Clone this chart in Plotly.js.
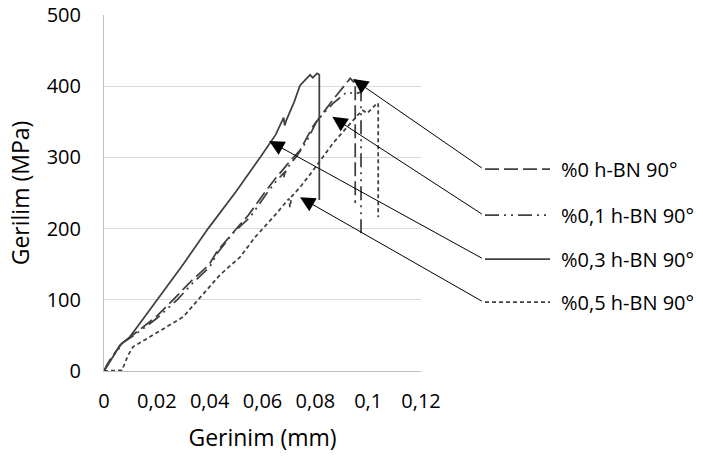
<!DOCTYPE html>
<html>
<head>
<meta charset="utf-8">
<script src="https://cdn.plot.ly/plotly-3.0.1.min.js"></script>
<style>html,body{margin:0;padding:0;background:#fff;}#chart{width:703px;height:458px;}</style>
</head>
<body>
<div id="chart"></div>
<script>
// Series names
var names = ['%0 h-BN 90°', '%0,1 h-BN 90°', '%0,3 h-BN 90°', '%0,5 h-BN 90°'];

// %0 h-BN 90°
var x0 = [0, 0.0015, 0.0040, 0.0066, 0.0122, 0.0197, 0.0267, 0.0332, 0.0397, 0.0428, 0.0497, 0.0547, 0.0607, 0.0648, 0.0698, 0.0742, 0.0790, 0.0867, 0.0932, 0.0945, 0.0951, 0.0951];
var y0 = [0, 10, 25, 38, 54, 76, 102, 127, 149, 168, 198, 219, 250, 270, 292, 310, 343, 381, 411, 406, 409, 236];

// %0,1 h-BN 90°
var x1 = [0, 0.0010, 0.0030, 0.0049, 0.0068, 0.0125, 0.0200, 0.0277, 0.0337, 0.0400, 0.0430, 0.0489, 0.0553, 0.0617, 0.0655, 0.0686, 0.0680, 0.0692, 0.0730, 0.0769, 0.0807, 0.0867, 0.0920, 0.0950, 0.0973, 0.0973];
var y1 = [0, 8, 20, 27, 39, 53, 74, 100, 124, 146, 166, 194, 216, 250, 268, 280, 272, 284, 302, 324, 352, 376, 392, 389, 392, 188];

// %0,3 h-BN 90°
var x3 = [0, 0.0011, 0.0023, 0.0042, 0.0060, 0.0098, 0.0150, 0.0201, 0.0300, 0.0394, 0.0500, 0.0591, 0.0650, 0.0680, 0.0684, 0.0690, 0.0720, 0.0742, 0.0769, 0.0780, 0.0790, 0.0807, 0.0815, 0.0815];
var y3 = [0, 7, 15, 25, 36, 48, 74, 100, 150, 200, 252, 300, 332, 356, 345, 352, 378, 401, 411, 416, 412, 418, 416, 240];

// %0,5 h-BN 90°
var x5 = [0, 0.0030, 0.0068, 0.0091, 0.0110, 0.0174, 0.0300, 0.0356, 0.0439, 0.0515, 0.0572, 0.0650, 0.0700, 0.0704, 0.0710, 0.0742, 0.0792, 0.0867, 0.0920, 0.0962, 0.0980, 0.0996, 0.1034, 0.1038, 0.1038];
var y5 = [0, 0, 1, 22, 34, 48, 76, 100, 135, 160, 188, 220, 242, 230, 245, 258, 282, 320, 343, 360, 366, 362, 376, 376, 216];

// Axis ticks
var xTickVals = [0, 0.02, 0.04, 0.06, 0.08, 0.1, 0.12];
var xTickText = ['0', '0,02', '0,04', '0,06', '0,08', '0,1', '0,12'];
var yTickVals = [0, 100, 200, 300, 400, 500];

// Arrow heads (points on the curves) for each series label
var arrowX = [0.0943, 0.0864, 0.0625, 0.0742];
var arrowY = [410, 357, 323, 244];

var FONT = 'Open Sans, sans-serif';
var LINE = '#404040';
var dashes = ['14px,5px', '14px,5px,2px,5px,2px,5px', 'solid', '4px,3px'];
var xs = [x0, x1, x3, x5];
var ys = [y0, y1, y3, y5];

var traces = [];
for (var i = 0; i < 4; i++) {
  traces.push({
    x: xs[i], y: ys[i], name: names[i], type: 'scatter', mode: 'lines',
    line: {color: LINE, width: 1.75, dash: dashes[i]},
    hoverinfo: 'skip'
  });
}

// label layout (paper coordinates)
var legY = [0.5674, 0.4382, 0.3146, 0.1938];
var tailX = 0.1436;
var shapes = [], annotations = [];
for (var j = 0; j < 4; j++) {
  shapes.push({
    type: 'line', xref: 'paper', yref: 'paper',
    x0: 1.2019, x1: 1.407, y0: legY[j], y1: legY[j],
    line: {color: LINE, width: 1.75, dash: dashes[j]}
  });
  annotations.push({
    xref: 'paper', yref: 'paper', x: 1.434, y: legY[j],
    xanchor: 'left', yanchor: 'middle', showarrow: false,
    text: names[j], font: {family: FONT, size: 20, color: '#000'}
  });
  annotations.push({
    xref: 'x', yref: 'y', x: arrowX[j], y: arrowY[j],
    axref: 'x', ayref: 'y', ax: tailX, ay: (legY[j] * 356) / 0.712,
    text: '', showarrow: true, arrowhead: 2, arrowsize: 3, arrowwidth: 1,
    arrowcolor: '#000', standoff: 0
  });
}

var layout = {
  width: 703, height: 458,
  margin: {l: 104, r: 282, t: 15, b: 87},
  paper_bgcolor: '#fff', plot_bgcolor: '#fff',
  showlegend: false,
  font: {family: FONT, size: 20, color: '#000'},
  xaxis: {
    range: [0, 0.12], tickvals: xTickVals, ticktext: xTickText,
    showgrid: false, zeroline: false, showline: true, linecolor: '#bfbfbf', linewidth: 1,
    ticks: '', ticklabelstandoff: 12,
    tickfont: {family: FONT, size: 20, color: '#000'},
    title: {text: 'Gerinim (mm)', font: {family: FONT, size: 23, color: '#000'}, standoff: 16}
  },
  yaxis: {
    range: [0, 500], tickvals: yTickVals,
    showgrid: true, gridcolor: '#d9d9d9', gridwidth: 1,
    zeroline: false, showline: true, linecolor: '#bfbfbf', linewidth: 1,
    ticks: '', ticklabelstandoff: 18,
    tickfont: {family: FONT, size: 20, color: '#000'},
    title: {text: 'Gerilim (MPa)', font: {family: FONT, size: 23, color: '#000'}, standoff: 10}
  },
  shapes: shapes,
  annotations: annotations
};

Plotly.newPlot('chart', traces, layout, {displayModeBar: false, staticPlot: true});
</script>
</body>
</html>
